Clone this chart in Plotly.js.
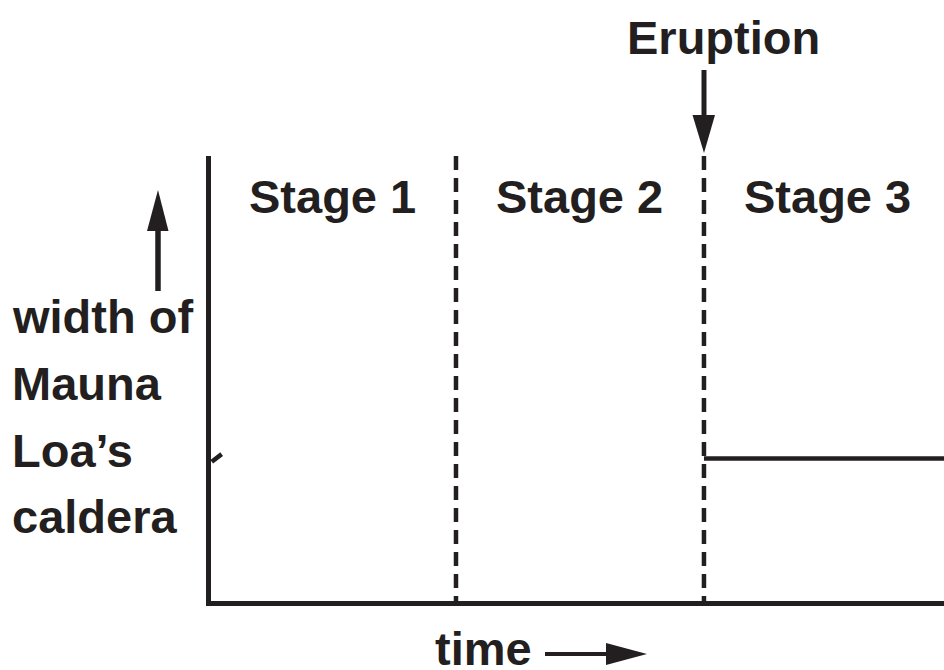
<!DOCTYPE html>
<html>
<head>
<meta charset="utf-8">
<script src="https://cdn.plot.ly/plotly-3.0.1.min.js"></script>
<style>html,body{margin:0;padding:0;background:#fff;}#chart{width:944px;height:670px;}</style>
</head>
<body>
<div id="chart"></div>
<script>
// ---- data ----
const stageNames = ["Stage 1", "Stage 2", "Stage 3"];
const stageCenters = [0.5, 1.5, 2.5];
const stageBounds = [1, 2];            // dashed boundaries; eruption at 2
const eruptionTime = 2;
const widthAfterX = [2, 3];            // caldera width after eruption
const widthAfterY = [0.32, 0.32];
const startMarkX = [0.015, 0.055];     // small starting mark on the y axis
const startMarkY = [0.313, 0.330];
const yLabelLines = ["width of", "Mauna", "Loa\u2019s", "caldera"];
const xLabel = "time";
const eventLabel = "Eruption";

// ---- layout helpers (pixel -> paper) ----
const W = 944, H = 670;
const L = 211, R = 0, T = 156, B = 69;
const pw = W - L - R, ph = H - T - B;
const px = x => (x - L) / pw;
const py = y => (H - B - y) / ph;
const ink = '#231f20';
const font = {family: 'Liberation Sans, Arial, Helvetica, sans-serif', size: 47, color: ink, weight: 700};

function tri(p) {
  return 'M' + p.map(q => px(q[0]) + ',' + py(q[1])).join('L') + 'Z';
}

const traces = [
  {x: widthAfterX, y: widthAfterY, mode: 'lines', line: {color: ink, width: 4.5}, hoverinfo: 'skip', showlegend: false},
  {x: startMarkX, y: startMarkY, mode: 'lines', line: {color: ink, width: 4.5}, hoverinfo: 'skip', showlegend: false}
];

const shapes = [];
stageBounds.forEach(b => shapes.push({type: 'line', xref: 'x', yref: 'paper', x0: b, x1: b, y0: 1, y1: 0,
  line: {color: ink, width: 4.5, dash: '14px,8px'}}));
// eruption arrow
shapes.push({type: 'line', xref: 'paper', yref: 'paper', x0: px(704), x1: px(704), y0: py(70), y1: py(118), line: {color: ink, width: 5}});
shapes.push({type: 'path', xref: 'paper', yref: 'paper', path: tri([[692.5,115],[715,115],[704,153]]), fillcolor: ink, line: {width: 0}});
// y-direction arrow
shapes.push({type: 'line', xref: 'paper', yref: 'paper', x0: px(158), x1: px(158), y0: py(228), y1: py(291), line: {color: ink, width: 5.5}});
shapes.push({type: 'path', xref: 'paper', yref: 'paper', path: tri([[147,231],[168.5,231],[158,190]]), fillcolor: ink, line: {width: 0}});
// time arrow
shapes.push({type: 'line', xref: 'paper', yref: 'paper', x0: px(545), x1: px(609), y0: py(654), y1: py(654), line: {color: ink, width: 4}});
shapes.push({type: 'path', xref: 'paper', yref: 'paper', path: tri([[606,643],[606,665],[647,654]]), fillcolor: ink, line: {width: 0}});

const annotations = [];
stageNames.forEach((s, i) => annotations.push({text: s, xref: 'x', yref: 'paper', x: stageCenters[i], y: py(196.4),
  xanchor: 'center', yanchor: 'middle', showarrow: false, font: font}));
annotations.push({text: eventLabel, xref: 'paper', yref: 'paper', x: px(723), y: py(38), xanchor: 'center', yanchor: 'middle', showarrow: false, font: font});
const lineCenters = [316.7, 383.7, 450.7, 516.7];
yLabelLines.forEach((t, i) => annotations.push({text: t, xref: 'paper', yref: 'paper', x: px(10), y: py(lineCenters[i]),
  xanchor: 'left', yanchor: 'middle', showarrow: false, font: font}));
annotations.push({text: xLabel, xref: 'paper', yref: 'paper', x: px(483), y: py(648.7), xanchor: 'center', yanchor: 'middle', showarrow: false, font: font});

const axisCommon = {showgrid: false, zeroline: false, showticklabels: false, ticks: '', showline: true, linecolor: ink, linewidth: 5, fixedrange: true};

const layout = {
  width: W, height: H,
  margin: {l: L, r: R, t: T, b: B, pad: 0},
  paper_bgcolor: '#fff', plot_bgcolor: '#fff',
  xaxis: Object.assign({range: [0.012, 2.968]}, axisCommon),
  yaxis: Object.assign({range: [0, 1]}, axisCommon),
  shapes: shapes,
  annotations: annotations,
  showlegend: false
};

Plotly.newPlot('chart', traces, layout, {staticPlot: true, displayModeBar: false});
</script>
</body>
</html>
